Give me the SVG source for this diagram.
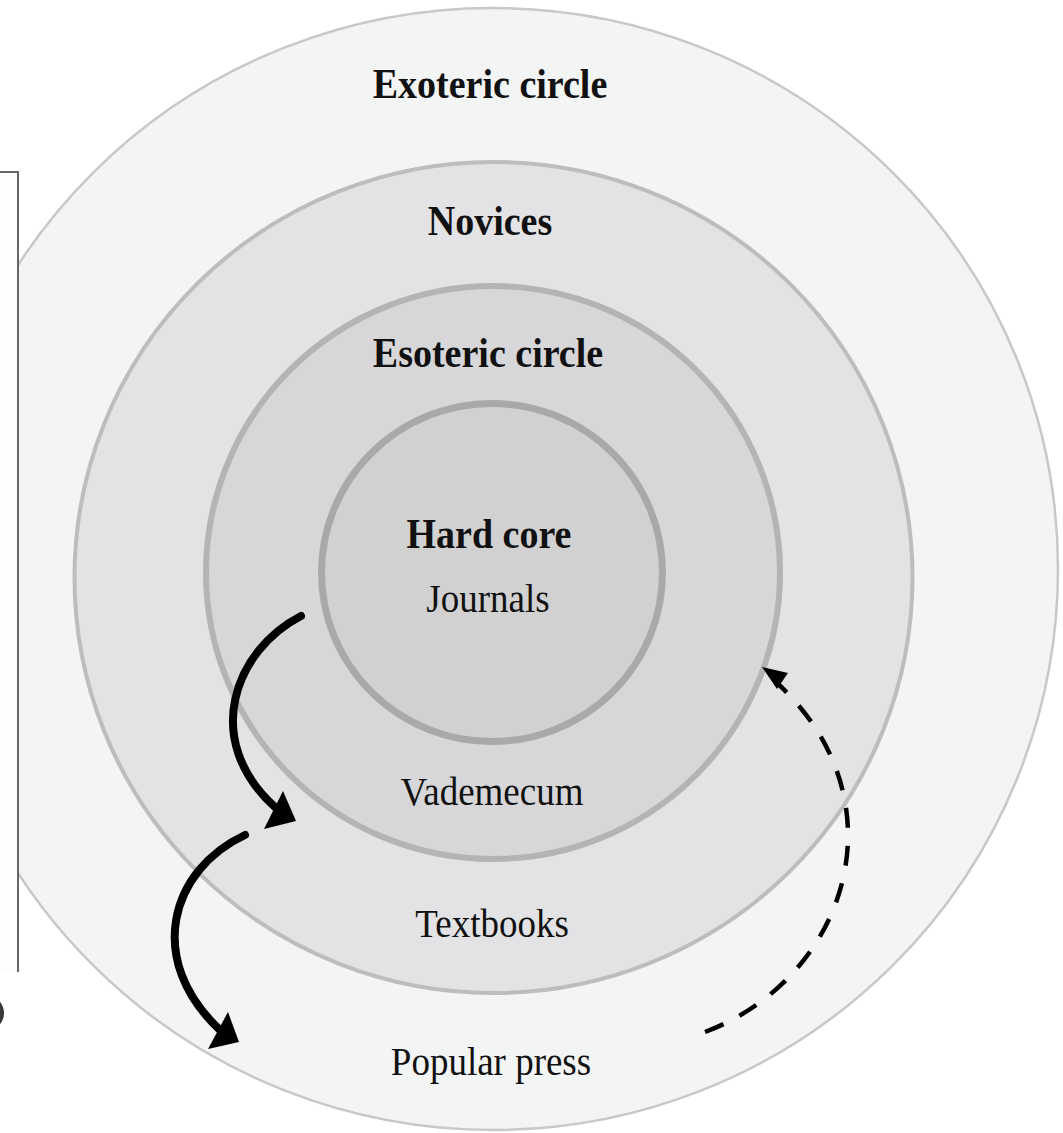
<svg xmlns="http://www.w3.org/2000/svg" width="1063" height="1133" viewBox="0 0 1063 1133">
  <style>
    .lbl { font-family: "Liberation Serif", "Times New Roman", serif; fill: #111; text-anchor: middle; }
    .b { font-weight: bold; font-size: 38px; }
    .r { font-size: 37px; }
    .solid { fill: none; stroke: #000; stroke-width: 8; stroke-linecap: round; }
    .dash { fill: none; stroke: #000; stroke-width: 4.5; stroke-dasharray: 20 18; }
    .head { fill: #000; }
  </style>
  <rect x="0" y="0" width="1063" height="1133" fill="#ffffff"/>
  <g id="exoteric">
    <ellipse cx="493" cy="569" rx="565" ry="561" fill="#f3f4f4" stroke="#c8c8c8" stroke-width="2.5"/>
    <text class="lbl b" transform="translate(490 98) scale(1 1.1)">Exoteric circle</text>
    <text class="lbl r" transform="translate(491 1075) scale(1 1.1)">Popular press</text>
  </g>
  <g id="novices">
    <ellipse cx="493.5" cy="577.5" rx="419" ry="415.5" fill="#e3e2e4" stroke="#bdbdbd" stroke-width="4"/>
    <text class="lbl b" transform="translate(490 235) scale(1 1.1)">Novices</text>
    <text class="lbl r" transform="translate(492 937) scale(1 1.1)">Textbooks</text>
  </g>
  <g id="esoteric">
    <ellipse cx="493" cy="572.5" rx="287" ry="286.5" fill="#d7d7d9" stroke="#b4b4b4" stroke-width="6"/>
    <text class="lbl b" transform="translate(488 367) scale(1 1.1)">Esoteric circle</text>
    <text class="lbl r" transform="translate(492 805) scale(1 1.1)">Vademecum</text>
  </g>
  <g id="hardcore">
    <ellipse cx="492" cy="572.5" rx="170.5" ry="169" fill="#d1d1d2" stroke="#a9a9a9" stroke-width="7"/>
    <text class="lbl b" transform="translate(489 548) scale(1 1.1)">Hard core</text>
    <text class="lbl r" transform="translate(488 612) scale(1 1.1)">Journals</text>
  </g>
  <g id="leftbox">
    <rect x="-5" y="172" width="23" height="800" fill="#fdfdfd"/>
    <path d="M0 172 H18 V972" fill="none" stroke="#666" stroke-width="2"/>
    <ellipse cx="-12" cy="1013" rx="16" ry="17" fill="#3a3a3a"/>
  </g>
  <g id="connectors">
    <path class="solid" d="M301 616 C235 650, 200 740, 276 808"/>
    <polygon class="head" points="283,791 296,821 264,829"/>
    <path class="solid" d="M245 835 C170 870, 145 960, 220 1030"/>
    <polygon class="head" points="228,1012 239,1042 208,1049"/>
    <path class="dash" d="M705 1032 C848 978, 905 800, 776 682"/>
    <polygon class="head" points="762,667 788,673 777,689"/>
  </g>
</svg>
